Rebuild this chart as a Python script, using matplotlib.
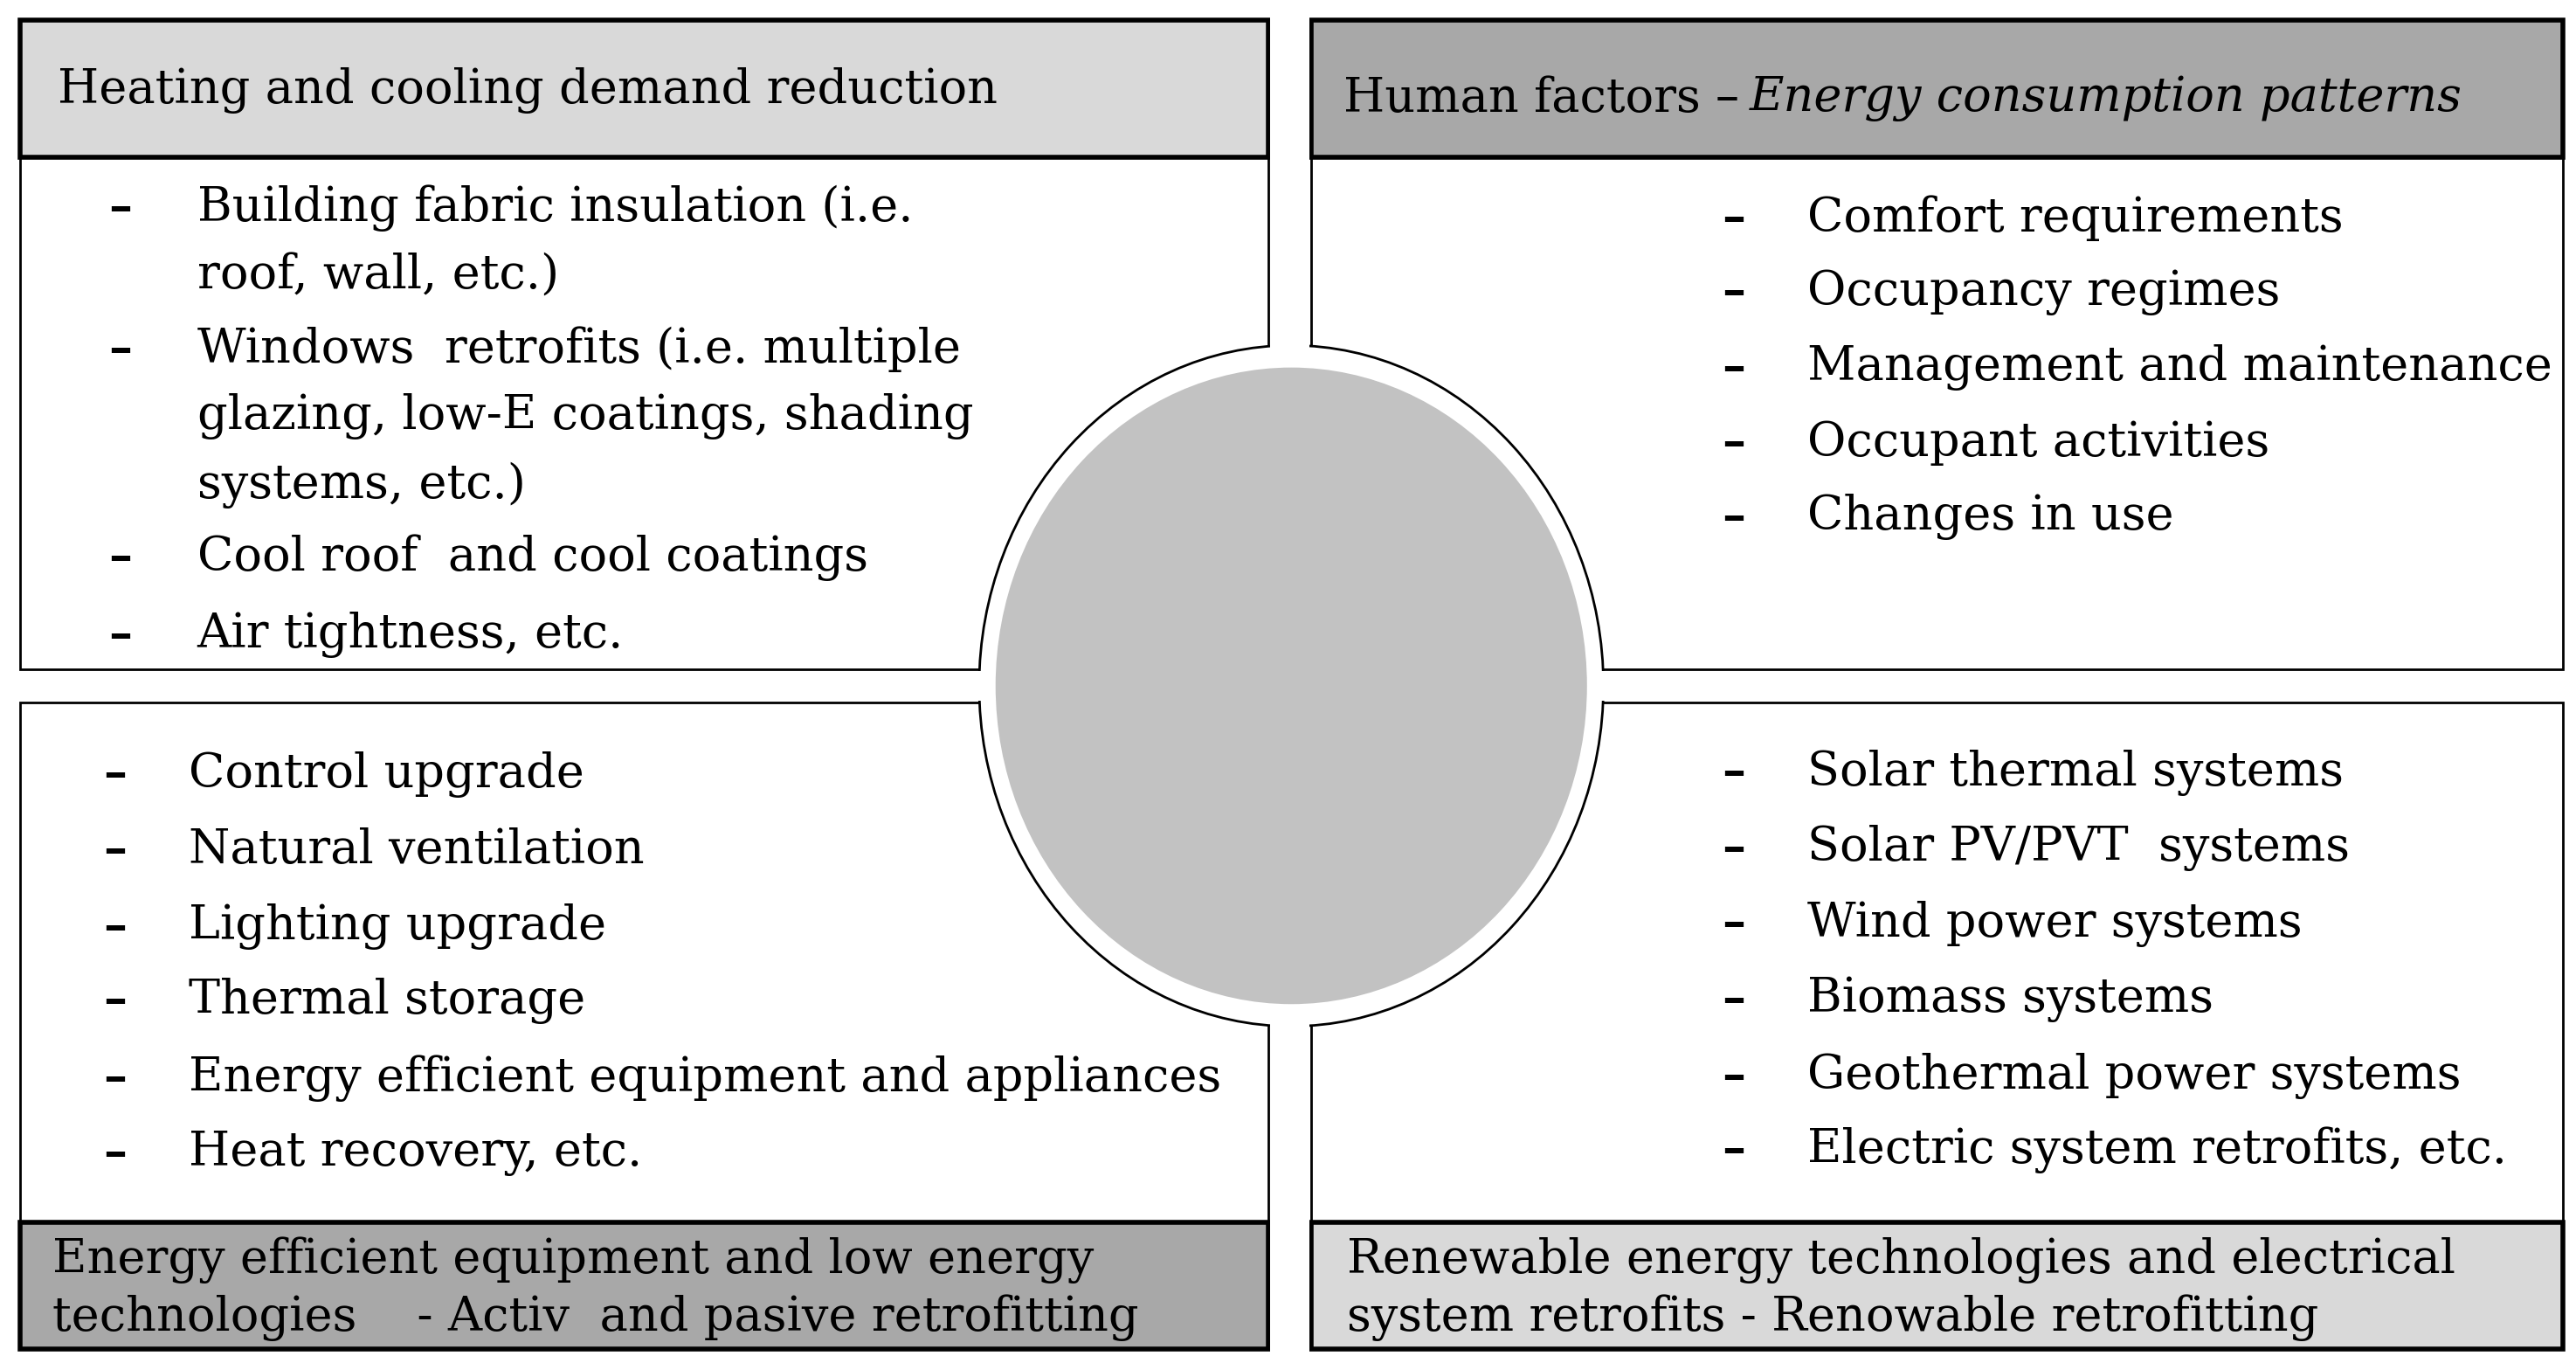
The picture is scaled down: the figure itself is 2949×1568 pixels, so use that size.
import matplotlib.pyplot as plt
from matplotlib.patches import Rectangle, Ellipse

plt.rcParams['font.family'] = ['DejaVu Serif', 'Liberation Serif']

tl_header = "Heating and cooling demand reduction"
tl_items = ["Building fabric insulation (i.e.", "roof, wall, etc.)", "Windows  retrofits (i.e. multiple",
            "glazing, low-E coatings, shading", "systems, etc.)", "Cool roof  and cool coatings",
            "Air tightness, etc."]
tl_dash = [True, False, True, False, False, True, True]
tl_y = [127, 168, 213, 254, 296, 340, 387]

tr_items = ["Comfort requirements", "Occupancy regimes", "Management and maintenance",
            "Occupant activities", "Changes in use"]
tr_y = [133, 178, 224, 270, 315]

bl_items = ["Control upgrade", "Natural ventilation", "Lighting upgrade", "Thermal storage",
            "Energy efficient equipment and appliances", "Heat recovery, etc."]
bl_y = [472, 518, 565, 610, 657, 703]
bl_footer = ["Energy efficient equipment and low energy", "technologies    - Activ  and pasive retrofitting"]

br_items = ["Solar thermal systems", "Solar PV/PVT  systems", "Wind power systems", "Biomass systems",
            "Geothermal power systems", "Electric system retrofits, etc."]
br_y = [471, 517, 563, 609, 656, 701]
br_footer = ["Renewable energy technologies and electrical", "system retrofits - Renowable retrofitting"]

LIGHT, DARK = '#d9d9d9', '#a8a8a8'
FS = 39

fig = plt.figure(figsize=(29.49, 15.68), dpi=100)
ax = fig.add_axes([0, 0, 1, 1])
ax.set_xlim(0, 1568); ax.set_ylim(835, 0); ax.axis('off')

def box(x0, y0, x1, y1, fc='white', lw=2):
    ax.add_patch(Rectangle((x0, y0), x1 - x0, y1 - y0, fc=fc, ec='black', lw=lw))

box(12, 12, 772, 408); box(798, 12, 1560, 408)
box(12, 428, 772, 822); box(798, 428, 1560, 822)
box(12, 12, 772, 96, LIGHT, 4); box(798, 12, 1560, 96, DARK, 4)
box(12, 745, 772, 822, DARK, 4); box(798, 745, 1560, 822, LIGHT, 4)

cx, cy = 786, 418
ax.add_patch(Ellipse((cx, cy), 380, 415, fc='white', ec='black', lw=2, zorder=3))
ax.add_patch(Rectangle((773, 0), 24, 835, fc='white', ec='none', zorder=4))
ax.add_patch(Rectangle((0, 409), 1568, 18, fc='white', ec='none', zorder=4))
ax.add_patch(Ellipse((cx, cy), 360, 388, fc='#c2c2c2', ec='none', zorder=5))

ax.text(35, 55, tl_header, fontsize=FS, va='center')
ax.text(818, 60, "Human factors \u2013", fontsize=FS, va='center')
ax.text(1065, 60, "Energy consumption patterns", fontsize=FS, va='center', style='italic')

def items(xd, xt, ys, texts, dashes=None):
    for i, (y, t) in enumerate(zip(ys, texts)):
        if dashes is None or dashes[i]:
            ax.text(xd, y, "\u2013", fontsize=FS, va='center', ha='center', fontweight='bold')
        ax.text(xt, y, t, fontsize=FS, va='center')

items(73, 120, tl_y, tl_items, tl_dash)
items(1055, 1100, tr_y, tr_items)
items(70, 115, bl_y, bl_items)
items(1055, 1100, br_y, br_items)

for i, t in enumerate(bl_footer):
    ax.text(32, 768 + 35 * i, t, fontsize=FS, va='center')
for i, t in enumerate(br_footer):
    ax.text(820, 768 + 35 * i, t, fontsize=FS, va='center')

fig.savefig('out.png', dpi=100, facecolor='white')
